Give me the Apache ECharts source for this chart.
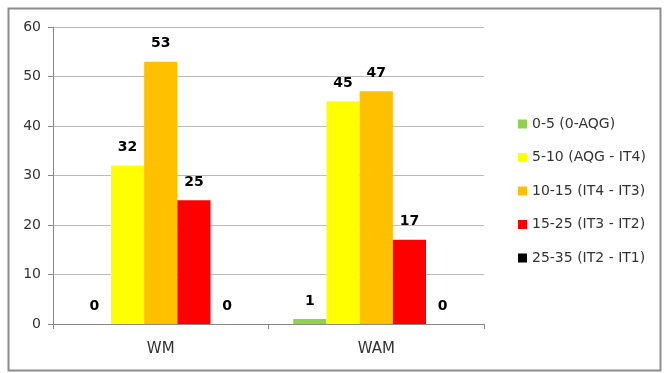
<!DOCTYPE html>
<html lang="en">
<head>
	<meta charset="UTF-8">
	<title>pm2.5 bins</title>
	<style>
		html, body { margin: 0; padding: 0; background: #fff; }
		#chart { width: 664px; height: 373px; }
	</style>
</head>
<body>
	<div id="chart"></div>
	<script src="https://cdn.jsdelivr.net/npm/echarts@6/dist/echarts.min.js"></script>
	<script>
		var categories = ['WM', 'WAM'];
		var seriesNames = ['0-5 (0-AQG)', '5-10 (AQG - IT4)', '10-15 (IT4 - IT3)', '15-25 (IT3 - IT2)', '25-35 (IT2 - IT1)'];
		var seriesColors = ['#92D050', '#FFFF00', '#FFC000', '#FF0000', '#000000'];
		var bin0 = [0, 1];
		var bin1 = [32, 45];
		var bin2 = [53, 47];
		var bin3 = [25, 17];
		var bin4 = [0, 0];
		var values = [bin0, bin1, bin2, bin3, bin4];

		var fontName = '"DejaVu Sans", sans-serif';
		var myChart = echarts.init(document.getElementById('chart'));

		var series = [];
		for (var i = 0; i < values.length; i++) {
			series.push({
				name: seriesNames[i],
				type: 'bar',
				data: values[i],
				barGap: '0%',
				barCategoryGap: '23%',
				itemStyle: { color: seriesColors[i] },
				label: {
					show: true,
					position: 'top',
					distance: 11,
					color: '#000',
					fontWeight: 'bold',
					fontSize: 14,
					fontFamily: fontName
				}
			});
		}

		var option = {
			backgroundColor: '#fff',
			animation: false,
			graphic: [{
				type: 'rect',
				left: 6,
				top: 6,
				shape: { width: 652, height: 362 },
				style: { fill: 'none', stroke: '#8c8c8c', lineWidth: 2 },
				silent: true
			}],
			legend: {
				orient: 'vertical',
				left: 513,
				top: 112,
				itemWidth: 9,
				itemHeight: 9,
				itemGap: 19.5,
				icon: 'rect',
				textStyle: { fontSize: 14, color: '#333', fontFamily: fontName },
				data: seriesNames
			},
			grid: { left: 53, right: 180, top: 27, bottom: 49 },
			xAxis: {
				type: 'category',
				data: categories,
				axisLine: { lineStyle: { color: '#888' } },
				axisTick: { show: true, length: 5, lineStyle: { color: '#888' } },
				axisLabel: { color: '#333', fontSize: 15, margin: 18, fontFamily: fontName }
			},
			yAxis: {
				type: 'value',
				min: 0,
				max: 60,
				interval: 10,
				axisLine: { show: true, lineStyle: { color: '#888' } },
				axisTick: { show: true, length: 5, lineStyle: { color: '#888' } },
				axisLabel: { color: '#333', fontSize: 14, margin: 12, fontFamily: fontName },
				splitLine: { lineStyle: { color: '#bbb' } }
			},
			series: series
		};

		myChart.setOption(option);
	</script>
</body>
</html>
